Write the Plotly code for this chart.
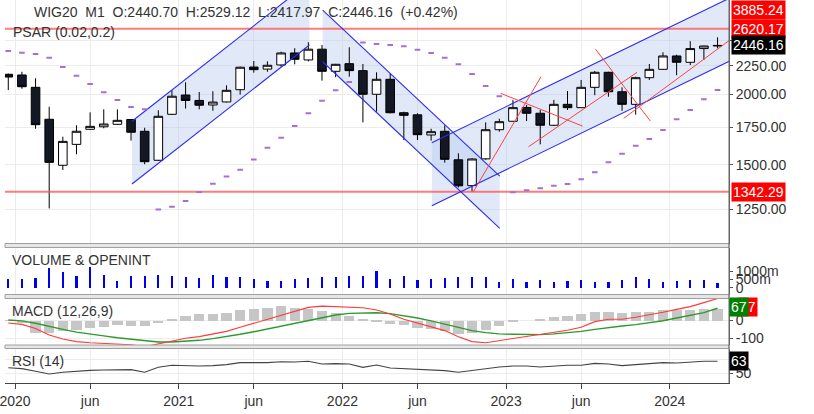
import math
import plotly.graph_objects as go

# ---------------- data (monthly candles, Dec 2019 .. Apr 2024) ----------------
candle_idx = list(range(53))

opens = [2173, 2167, 2060, 1807, 1496, 1630, 1734, 1752, 1770, 1805,
         1720, 1527, 1844, 1996, 1952, 1916, 1940, 2040, 2239, 2220,
         2258, 2372, 2305, 2409, 2200, 2270, 2206, 2002, 2129, 1856,
         1840, 1694, 1720, 1530, 1376, 1536, 1731, 1792, 1897, 1852,
         1763, 1921, 1895, 2060, 2191, 2023, 1921, 2143, 2218, 2343,
         2283, 2415, 2440.70]
highs = [2180, 2196, 2138, 1902, 1682, 1763, 1859, 1882, 1882, 1808,
         1745, 1875, 2035, 2103, 2021, 2027, 2077, 2243, 2295, 2292,
         2384, 2419, 2479, 2451, 2268, 2428, 2267, 2191, 2182, 1864,
         1852, 1738, 1763, 1571, 1540, 1784, 1811, 1956, 1916, 1877,
         1956, 2029, 2123, 2203, 2196, 2060, 2152, 2267, 2379, 2355,
         2489, 2444, 2529.12]
lows = [2037, 2048, 1738, 1253, 1467, 1565, 1729, 1741, 1765, 1655,
        1502, 1524, 1839, 1888, 1882, 1871, 1936, 1999, 2188, 2196,
        2242, 2264, 2292, 2117, 2147, 2152, 1784, 1864, 1851, 1659,
        1659, 1655, 1512, 1366, 1342.29, 1530, 1717, 1790, 1794, 1630,
        1757, 1877, 1895, 1994, 1982, 1871, 1841, 2123, 2212, 2165,
        2257, 2304, 2417.97]
closes = [2149, 2065, 1767, 1514, 1650, 1720, 1755, 1772, 1799, 1713,
          1518, 1829, 1986, 1952, 1914, 1939, 2035, 2237, 2215, 2255,
          2372, 2311, 2409, 2200, 2264, 2206, 2002, 2129, 1856, 1836,
          1696, 1717, 1533, 1375, 1535, 1731, 1789, 1895, 1852, 1763,
          1921, 1895, 2060, 2191, 2023, 1921, 2143, 2218, 2343, 2283,
          2415, 2440.70, 2446.16]

psar = [2391, 2375, 2362, 2326, 2239, 2161, 2088, 2018, 1956, 1900,
        1882, 1248, 1262, 1292, 1340, 1387, 1428, 1469, 1532, 1608,
        1675, 1757, 1852, 1950, 2035, 2105, 2475, 2461, 2451, 2438,
        2404, 2372, 2326, 2264, 2176, 2071, 1986, 1339, 1350, 1362,
        1375, 1385, 1412, 1453, 1514, 1569, 1621, 1666, 1729, 1807,
        1877, 1961, 2037]

volume = [500, 500, 560, 1160, 920, 720, 1220, 740, 400, 720,
          720, 780, 720, 620, 600, 760, 620, 620, 500, 400,
          400, 500, 560, 620, 620, 700, 720, 1020, 500, 700,
          460, 500, 600, 620, 620, 620, 360, 500, 340, 460,
          340, 420, 460, 340, 340, 460, 620, 500, 360, 420,
          460, 460, 300]

macd_hist = [-2, -11, -67, -67, -55, -51, -40, -33, -26, -29,
             -29, -15, 7, 22, 33, 33, 40, 55, 64, 69,
             77, 69, 64, 51, 40, 22, 7, -4, -18, -26,
             -40, -47, -58, -73, -66, -51, -29, -7, 0, 4,
             18, 24, 33, 47, 47, 40, 44, 47, 55, 55,
             58, 64, 62]
macd_line = [-16, -24, -46, -82, -104, -118, -124, -127, -133, -135,
             -146, -131, -113, -100, -91, -75, -62, -40, -18, 4,
             27, 49, 69, 76, 73, 73, 67, 55, 33, 4,
             -18, -36, -58, -91, -118, -124, -113, -98, -87, -78,
             -67, -56, -40, -9, 4, 4, 15, 27, 42, 58,
             73, 95, 117]
macd_signal = [0, -5, -18, -36, -51, -66, -78, -87, -97, -106,
               -113, -120, -120, -117, -111, -102, -91, -78, -64, -49,
               -33, -18, 0, 15, 27, 36, 40, 40, 35, 24,
               11, -5, -22, -40, -58, -69, -76, -78, -80, -80,
               -76, -71, -62, -51, -40, -33, -25, -15, -4, 11,
               25, 40, 64]
rsi = [56.1, 55.1, 52.2, 49.3, 51.1, 52.5, 53.2, 53.6, 54.0, 54.0,
       51.1, 56.5, 58.7, 57.9, 57.9, 58.3, 59.4, 61.6, 61.6, 61.6,
       62.6, 62.3, 63.0, 60.1, 60.5, 60.1, 56.5, 59.0, 55.8, 55.1,
       54.0, 54.0, 52.9, 51.1, 52.9, 55.4, 56.9, 57.9, 57.9, 56.9,
       57.9, 58.7, 58.7, 60.8, 60.1, 58.3, 59.4, 60.5, 61.6, 61.2,
       62.3, 63.0, 63.0]

x_tick_text = ["2020", "jun", "2021", "jun", "2022", "jun", "2023", "jun", "2024"]
x_tick_pos = [0.5, 6, 12.5, 18, 24.5, 30, 36.5, 42, 48.5]

price_ticks = [1250, 1500, 1750, 2000, 2250, 2500]
price_tick_text = ["1250.00", "1500.00", "1750.00", "2000.00", "2250.00", ""]

level_lines = [2620.17, 1342.29]
level_labels = ["2620.17", "1342.29"]
top_level_label = "3885.24"
last_price = 2446.16

# drawing objects (x in candle index, y in price)
channels = [
    dict(x=[9.07, 22.08], lower=[1385, 2451], upper=[1792, 3171]),
    dict(x=[23.05, 36.03], lower=[2288, 1155], upper=[2828, 1431]),
    dict(x=[31.05, 53.5], lower=[1267, 2332], upper=[1641, 3021]),
]
red_lines = [
    ([34.1, 39.06], [1342.29, 2152]),
    ([36.10, 42.10], [2010, 1757]),
    ([38.14, 46.10], [1614, 2191]),
    ([43.06, 47.07], [2408, 1794]),
    ([45.12, 53.5], [1814, 2564]),
]

header = "WIG20  M1  O:2440.70  H:2529.12  L:2417.97  C:2446.16  (+0.42%)"

# ---------------- geometry ----------------
W, H = 814, 414
ML, MR, MT, MB = 0, 85, 0, 31
PH = H - MT - MB  # 383


def py(ypx):
    return (PH - ypx) / PH


FONT = "Liberation Sans, Arial, sans-serif"
TXT = "#333333"

fig = go.Figure()

# candles
fig.add_trace(go.Candlestick(
    x=candle_idx, open=opens, high=highs, low=lows, close=closes,
    increasing=dict(line=dict(color="#000000", width=1), fillcolor="#ffffff"),
    decreasing=dict(line=dict(color="#000000", width=1), fillcolor="#141824"),
    whiskerwidth=0, hoverinfo="skip", yaxis="y"))

# horizontal levels
for lv in level_lines:
    fig.add_trace(go.Scatter(x=[-2, 56], y=[lv, lv], mode="lines",
                             line=dict(color="rgba(255,80,80,0.75)", width=2),
                             hoverinfo="skip", yaxis="y"))

# channel lines
for ch in channels:
    for key in ("lower", "upper"):
        fig.add_trace(go.Scatter(x=ch["x"], y=ch[key], mode="lines",
                                 line=dict(color="#2a2af0", width=1.1),
                                 hoverinfo="skip", yaxis="y"))

# red trend lines
for xs, ys in red_lines:
    fig.add_trace(go.Scatter(x=xs, y=ys, mode="lines",
                             line=dict(color="#ff4040", width=1),
                             hoverinfo="skip", yaxis="y"))

# PSAR
fig.add_trace(go.Scatter(x=candle_idx, y=psar, mode="markers",
                         marker=dict(symbol="line-ew", size=4,
                                     line=dict(color="#a46fd8", width=2)),
                         hoverinfo="skip", yaxis="y"))

# volume
fig.add_trace(go.Bar(x=candle_idx, y=volume, width=0.16,
                     marker=dict(color="#0000ee", line=dict(width=0)),
                     hoverinfo="skip", yaxis="y2"))

# MACD
fig.add_trace(go.Bar(x=candle_idx, y=macd_hist, width=0.75,
                     marker=dict(color="#c6c6c6", line=dict(width=0)),
                     hoverinfo="skip", yaxis="y3"))
fig.add_trace(go.Scatter(x=candle_idx, y=macd_signal, mode="lines",
                         line=dict(color="#2e9a2e", width=1.4),
                         hoverinfo="skip", yaxis="y3"))
fig.add_trace(go.Scatter(x=candle_idx, y=macd_line, mode="lines",
                         line=dict(color="#ff3a3a", width=1.1),
                         hoverinfo="skip", yaxis="y3"))

# RSI
fig.add_trace(go.Scatter(x=candle_idx, y=rsi, mode="lines",
                         line=dict(color="#444444", width=1.1),
                         hoverinfo="skip", yaxis="y4"))

axis_common = dict(side="right", anchor="x", ticks="outside", ticklen=3,
                   tickcolor="#555", showline=True, linecolor="#666",
                   zeroline=False, tickfont=dict(size=14, color=TXT, family=FONT),
                   gridcolor="#ececec")

fig.update_layout(
    width=W, height=H,
    margin=dict(l=ML, r=MR, t=MT, b=MB),
    paper_bgcolor="white", plot_bgcolor="white",
    showlegend=False, bargap=0, boxgap=0.1, boxgroupgap=0.3,
    font=dict(family=FONT, size=14, color=TXT),
    xaxis=dict(domain=[0, 1], range=[-0.24, 52.84], anchor="y4",
               tickmode="array", tickvals=x_tick_pos, ticktext=x_tick_text,
               ticks="outside", ticklen=5, tickcolor="#444",
               showline=True, linecolor="#444", showgrid=True,
               gridcolor="#ececec", zeroline=False,
               ticklabeloverflow="allow",
               rangeslider=dict(visible=False),
               tickfont=dict(size=14, color=TXT, family=FONT)),
    yaxis=dict(domain=[py(243.5), 1], type="log",
               range=[3.03547, 3.46952], tickmode="array",
               tickvals=price_ticks, ticktext=price_tick_text,
               showgrid=True, **axis_common),
    yaxis2=dict(domain=[py(294.5), py(248)], range=[-408, 2382],
                tickmode="array", tickvals=[0, 500, 1000],
                ticktext=["0", "500m", "1000m"], showgrid=False, **axis_common),
    yaxis3=dict(domain=[py(345), py(298.5)], range=[-136.6, 117.5],
                tickmode="array", tickvals=[-100, 0], ticktext=["-100", "0"],
                showgrid=True, **axis_common),
    yaxis4=dict(domain=[0, py(348.5)], range=[39.5, 76.9],
                tickmode="array", tickvals=[50, 65.5], ticktext=["50", ""],
                showgrid=True, **axis_common),
)

shapes = []
# channel fills (under the candles)
for ch in channels:
    pts = [(ch["x"][0], ch["lower"][0]), (ch["x"][1], ch["lower"][1]),
           (ch["x"][1], ch["upper"][1]), (ch["x"][0], ch["upper"][0])]
    path = "M " + " L ".join(f"{px},{pv}" for px, pv in pts) + " Z"
    shapes.append(dict(type="path", xref="x", yref="y", path=path,
                       fillcolor="rgba(180,200,240,0.40)", line=dict(width=0),
                       layer="between"))

# panel separators
for a, b in [(243.5, 247.5), (294.5, 298.5), (345, 348.5)]:
    shapes.append(dict(type="rect", xref="paper", yref="paper",
                       x0=0, x1=1, y0=py(b), y1=py(a),
                       fillcolor="#e6e6e6", line=dict(color="#a0a0a0", width=1),
                       layer="above"))
shapes.append(dict(type="line", xref="paper", yref="paper", x0=1, x1=1, y0=0, y1=1,
                   line=dict(color="#666", width=1), layer="above"))
fig.update_layout(shapes=shapes)

NB = "\u00a0"
ann = []


def text_ann(text, xpx, ypx):
    ann.append(dict(text=text.replace(" ", NB), xref="paper", yref="paper",
                    x=xpx / (W - ML - MR), y=py(ypx), xanchor="left", yanchor="middle",
                    showarrow=False, font=dict(size=14, color=TXT, family=FONT)))


text_ann(header, 27, 12)
text_ann("PSAR (0.02,0.2)", 6, 31.5)
text_ann("VOLUME & OPENINT", 5, 259.5)
text_ann("MACD (12,26,9)", 5, 310.5)
text_ann("RSI (14)", 5, 360.5)


def box_ann(text, bg, y, yref="y", xshift=2, yanchor="middle"):
    ann.append(dict(text=text, xref="paper", x=1, xanchor="left", xshift=xshift,
                    yref=yref, y=y, yanchor=yanchor, showarrow=False,
                    bgcolor=bg, borderpad=1,
                    font=dict(size=14, color="white", family=FONT)))


box_ann(top_level_label, "#ff0000", 1, yref="paper", yanchor="top")
box_ann(level_labels[0], "#ff0000", math.log10(level_lines[0]))
box_ann("2446.16", "#000000", math.log10(last_price))
box_ann(level_labels[1], "#ff0000", math.log10(level_lines[1]))
box_ann("77", "#ff0000", 72, yref="y3", xshift=9)
box_ann("67", "#008000", 72, yref="y3", xshift=0)
box_ann("63", "#000000", rsi[-1], yref="y4", xshift=0)

fig.update_layout(annotations=ann)

fig.write_html("out.html", config={"displayModeBar": False},
               post_script="document.body.style.margin='0px';document.body.style.padding='0px';")
